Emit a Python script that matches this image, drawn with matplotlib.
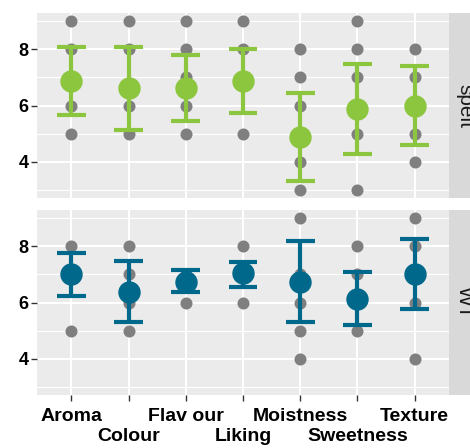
import matplotlib
matplotlib.use("Agg")
import matplotlib.pyplot as plt

# datos
atributos = ['Aroma', 'Colour', 'Flavour', 'Liking', 'Moistness', 'Sweetness', 'Texture']
etiquetas = ['Aroma', 'Colour', 'Flav our', 'Liking', 'Moistness', 'Sweetness', 'Texture']
grupos = ['spelt', 'WT']

puntos_spelt = [[5, 6, 7, 8, 9], [5, 6, 8, 9], [5, 6, 7, 8, 9], [5, 7, 8, 9],
                [3, 4, 5, 6, 7, 8], [3, 5, 7, 8, 9], [4, 5, 6, 7, 8]]
media_spelt = [6.88, 6.62, 6.62, 6.86, 4.88, 5.86, 6.0]
inf_spelt = [5.65, 5.14, 5.45, 5.73, 3.32, 4.26, 4.59]
sup_spelt = [8.08, 8.08, 7.8, 8.0, 6.45, 7.49, 7.4]

puntos_wt = [[5, 7, 8], [5, 6, 7, 8], [6, 7], [6, 7, 8],
             [4, 5, 6, 7, 9], [5, 6, 7, 8], [4, 6, 7, 8, 9]]
media_wt = [7.01, 6.39, 6.74, 7.04, 6.74, 6.13, 7.01]
inf_wt = [6.24, 5.29, 6.36, 6.54, 5.31, 5.19, 5.78]
sup_wt = [7.78, 7.47, 7.15, 7.45, 8.21, 7.09, 8.27]

colores = ['#8CC63E', '#00688B']

plt.rcParams['font.family'] = ['Liberation Sans', 'DejaVu Sans']

W, H = 470, 448
fig = plt.figure(figsize=(W / 100, H / 100), dpi=100)
fig.patch.set_facecolor('white')

def panel(y_top, y_bot, puntos, media, inf, sup, color, nombre, abajo):
    ax = fig.add_axes([37 / W, (H - y_bot) / H, 412 / W, (y_bot - y_top) / H])
    ax.set_facecolor('#EBEBEB')
    for s in ax.spines.values():
        s.set_visible(False)
    ax.set_xlim(0.4, 7.6)
    ax.set_ylim(2.7, 9.3)
    ax.set_yticks([4, 6, 8])
    ax.set_yticks([3, 5, 7, 9], minor=True)
    x = list(range(1, 8))
    # etiquetas en dos filas: pares como major, impares como minor
    ax.set_xticks(x[0::2])
    ax.set_xticks(x[1::2], minor=True)
    ax.grid(True, which='both', axis='x', color='white', lw=1.5, zorder=0)
    ax.grid(True, which='major', axis='y', color='white', lw=1.5, zorder=0)
    ax.grid(True, which='minor', axis='y', color='white', lw=0.8, zorder=0)
    ax.set_axisbelow(True)
    ax.tick_params(axis='y', which='major', length=4, width=1, color='#333333',
                   labelsize=13, pad=2)
    ax.tick_params(axis='y', which='minor', length=0)
    for lab in ax.get_yticklabels():
        lab.set_fontweight('bold')
        lab.set_color('black')
    if abajo:
        ax.tick_params(axis='x', which='major', length=4, width=1, color='#333333',
                       labelsize=14, pad=5)
        ax.tick_params(axis='x', which='minor', length=4, width=1, color='#333333',
                       labelsize=14, pad=20)
        ax.set_xticklabels(etiquetas[0::2], fontweight='bold', color='black')
        ax.set_xticklabels(etiquetas[1::2], minor=True, fontweight='bold', color='black')
    else:
        ax.tick_params(axis='x', which='both', length=0, labelbottom=False)

    for i, vals in enumerate(puntos):
        ax.scatter([i + 1] * len(vals), vals, s=75, color='#7F7F7F', lw=0, zorder=2)
    ax.vlines(x, inf, sup, color=color, lw=3, zorder=3)
    ax.hlines(inf, [v - 0.25 for v in x], [v + 0.25 for v in x], color=color, lw=3, zorder=3)
    ax.hlines(sup, [v - 0.25 for v in x], [v + 0.25 for v in x], color=color, lw=3, zorder=3)
    ax.scatter(x, media, s=260, color=color, lw=0, zorder=4)

    tira = fig.add_axes([449 / W, (H - y_bot) / H, 30 / W, (y_bot - y_top) / H])
    tira.set_facecolor('#D9D9D9')
    tira.set_xticks([])
    tira.set_yticks([])
    for s in tira.spines.values():
        s.set_visible(False)
    tira.text(0.2, 0.5, nombre, rotation=-90, ha='left', va='center',
              fontsize=15, color='#1A1A1A', transform=tira.transAxes)
    return ax

panel(13, 198, puntos_spelt, media_spelt, inf_spelt, sup_spelt, colores[0], grupos[0], False)
panel(210, 395, puntos_wt, media_wt, inf_wt, sup_wt, colores[1], grupos[1], True)

fig.savefig('out.png', dpi=100)
